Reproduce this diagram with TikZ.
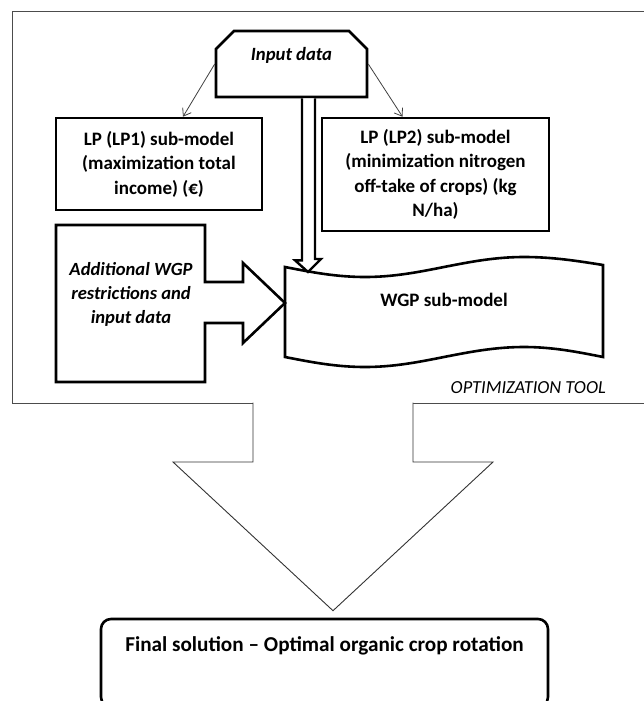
\documentclass[tikz,border=0pt]{standalone}
\usepackage{fontspec}
\setmainfont{Carlito}
\usetikzlibrary{shapes.misc,arrows.meta}

\begin{document}
\begin{tikzpicture}[
    x=1pt, y=-1pt,                    % 按像素坐标
    every node/.style={
        font=\fontsize{19}{24.5}\selectfont\bfseries,
        align=center,
        inner sep=0pt
    },
    box/.style={draw, line width=2.6pt},
    thinarrow/.style={->, draw=black!75, line width=0.8pt},
    hollow/.style={fill=white, draw, line width=2.4pt},
    blockarrow/.style={fill=white, draw=black!80, line width=0.9pt},
    >={Straight Barb[length=7pt,width=10pt]}
  ]
  \useasboundingbox (0,0) rectangle (644,701);

  % 外框
  \draw[draw=black!70, line width=1pt] (650,12) -- (12,12) -- (12,403) -- (650,403);
  \node[anchor=east, font=\fontsize{18.4}{22}\selectfont\itshape] (tool) at (606,388) {OPTIMIZATION TOOL};

  % 节点
  \node[box, chamfered rectangle, chamfered rectangle corners={north west,north east},
        chamfered rectangle xsep=9pt, chamfered rectangle ysep=9pt,
        minimum width=151pt, minimum height=66pt, text depth=20pt,
        font=\fontsize{18.7}{24}\selectfont\bfseries\itshape] (input) at (291.5,64) {Input data};
  \node[box, minimum width=206pt, minimum height=92pt] (lp1) at (159,164)
        {LP (LP1) sub-model\\(maximization total\\income) (€)};
  \node[box, minimum width=227pt, minimum height=113pt] (lp2) at (435.5,174.5)
        {LP (LP2) sub-model\\(minimization nitrogen\\off-take of crops) (kg\\N/ha)};
  \node[font=\fontsize{18.6}{24}\selectfont\bfseries\itshape] (addl) at (131,294)
        {Additional WGP\\restrictions and\\input data};
  \node (wgp) at (444,300) {WGP sub-model};
  \node[box, rounded corners=10pt, minimum width=447pt, minimum height=88pt,
        text depth=38pt, font=\fontsize{21.2}{26}\selectfont\bfseries] (final) at (324.5,663)
        {Final solution -- Optimal organic crop rotation};

  \coordinate (wgpin) at (308,272);
  \coordinate (wgpleft) at (285,303);

  % WGP 形状
  \draw[line width=2.6pt] (285,267) sin (365,277) cos (444,267) sin (524,257) cos (603,265)
       -- (603,357) sin (524,347) cos (444,357) sin (365,367) cos (285,357) -- cycle;

  % 附加数据框 (带箭头)
  \draw[line width=2.6pt] (56,225) -- (205,225) -- (205,282) -- (243,282) -- (243,263)
       -- (wgpleft) -- (243,343) -- (243,323) -- (205,323) -- (205,382) -- (56,382) -- cycle;

  % 边
  \draw[thinarrow] (input.west) -- ([xshift=24pt]lp1.north);
  \draw[thinarrow] (input.east) -- ([xshift=-33pt]lp2.north);
  \draw[hollow] ([xshift=10.5pt]input.south) -- ++(0,162) -- ++(-7,0) -- (wgpin)
       -- ++(13,-13) -- ++(-6,0) -- ([xshift=23.5pt]input.south);
  \draw[blockarrow] (253,402.5) -- (253,462) -- (173,462) -- ([xshift=8.5pt,yshift=7pt]final.north)
       -- (493,462) -- (413,462) -- (413,402.5);
\end{tikzpicture}
\end{document}
